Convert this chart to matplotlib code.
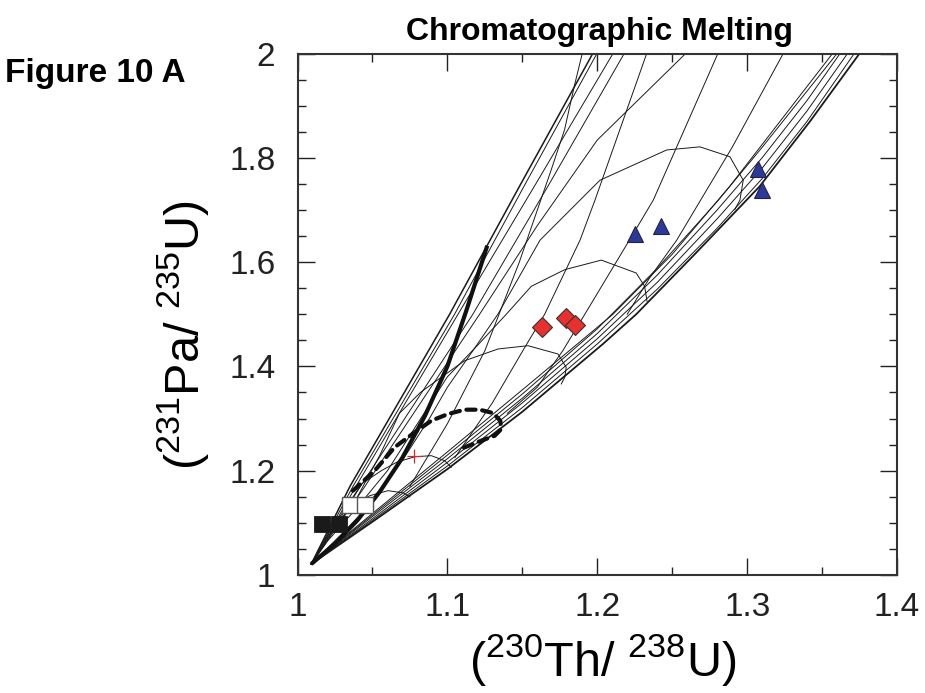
import matplotlib
matplotlib.use("Agg")
import matplotlib.pyplot as plt

plt.rcParams['font.family'] = ['Liberation Sans', 'DejaVu Sans']
plt.rcParams['mathtext.fontset'] = 'custom'
plt.rcParams['mathtext.rm'] = 'Liberation Sans'
plt.rcParams['mathtext.it'] = 'Liberation Sans'

# ---------------- data ----------------
# upper bundle of melt paths
u1_x = [1.0092, 1.035, 1.1015, 1.149, 1.197]
u1_y = [1.0211, 1.17, 1.50, 1.75, 2.0]
u2_x = [1.0092, 1.037, 1.1048, 1.152, 1.1998]
u2_y = [1.0211, 1.17, 1.50, 1.75, 2.0]
u3_x = [1.0092, 1.039, 1.1071, 1.159, 1.2105]
u3_y = [1.0211, 1.17, 1.50, 1.75, 2.0]
u4_x = [1.0092, 1.042, 1.117, 1.168, 1.218]
u4_y = [1.0211, 1.17, 1.50, 1.75, 2.0]
u5_x = [1.0092, 1.045, 1.1215, 1.16, 1.20, 1.259]
u5_y = [1.0211, 1.17, 1.50, 1.67, 1.834, 2.0]

# lower bundle of melt paths
l1_x = [1.0092, 1.05, 1.10, 1.15, 1.2038, 1.226, 1.265, 1.3083, 1.342, 1.375]
l1_y = [1.0211, 1.102, 1.203, 1.313, 1.443, 1.50, 1.615, 1.745, 1.87, 2.0]
l2_x = [1.0092, 1.05, 1.10, 1.15, 1.20, 1.24, 1.28, 1.31, 1.34, 1.3715]
l2_y = [1.0211, 1.105, 1.209, 1.321, 1.443, 1.548, 1.665, 1.76, 1.87, 2.0]
l3_x = [1.0092, 1.05, 1.10, 1.15, 1.20, 1.24, 1.28, 1.31, 1.34, 1.367]
l3_y = [1.0211, 1.108, 1.216, 1.330, 1.453, 1.561, 1.683, 1.78, 1.89, 2.0]
l4_x = [1.0092, 1.05, 1.10, 1.15, 1.20, 1.24, 1.28, 1.31, 1.34, 1.362]
l4_y = [1.0211, 1.112, 1.223, 1.339, 1.463, 1.575, 1.70, 1.80, 1.91, 2.0]
l5_x = [1.0092, 1.05, 1.10, 1.15, 1.20, 1.24, 1.28, 1.31, 1.335, 1.360]
l5_y = [1.0211, 1.115, 1.230, 1.347, 1.472, 1.588, 1.716, 1.82, 1.91, 2.0]
l6_x = [1.0092, 1.05, 1.10, 1.15, 1.2105, 1.25, 1.2883, 1.322, 1.357]
l6_y = [1.0211, 1.118, 1.236, 1.355, 1.50, 1.615, 1.745, 1.87, 2.0]

# arcs rising from the origin and bending over into the lower bundle
a1_x = [1.0092, 1.02, 1.03, 1.04, 1.0482, 1.0604, 1.0705, 1.075]
a1_y = [1.0211, 1.072, 1.112, 1.138, 1.1521, 1.1617, 1.1575, 1.150]
a2_x = [1.0092, 1.02, 1.03, 1.043, 1.0559, 1.066, 1.0782, 1.0893, 1.0982, 1.1026]
a2_y = [1.0211, 1.075, 1.12, 1.175, 1.200, 1.216, 1.2268, 1.2288, 1.2192, 1.2065]
a4_x = [1.0092, 1.025, 1.04, 1.055, 1.068, 1.082, 1.0959, 1.1115, 1.1338, 1.1538, 1.1738, 1.1793, 1.1783, 1.176]
a4_y = [1.0211, 1.09, 1.15, 1.23, 1.31, 1.35, 1.3791, 1.4109, 1.4334, 1.4397, 1.4238, 1.3983, 1.3791, 1.3663]
a5_x = [1.0092, 1.02, 1.04, 1.06, 1.08, 1.100, 1.120, 1.1393, 1.156, 1.1783, 1.2027, 1.226, 1.2316, 1.2332]
a5_y = [1.0211, 1.065, 1.13, 1.20, 1.29, 1.380, 1.440, 1.500, 1.5536, 1.5855, 1.6038, 1.5791, 1.5535, 1.5248]
a6_x = [1.0092, 1.03, 1.05, 1.07, 1.088, 1.100, 1.117, 1.1338, 1.1618, 1.2018, 1.2463, 1.2685, 1.2885, 1.2974, 1.2952, 1.2917]
a6_y = [1.0211, 1.08, 1.14, 1.22, 1.30, 1.36, 1.43, 1.5005, 1.642, 1.757, 1.815, 1.821, 1.802, 1.757, 1.719, 1.7005]

# thick dotted arc
d_x = [1.037, 1.0515, 1.0648, 1.0782, 1.0893, 1.1004, 1.1115, 1.1215, 1.1304, 1.1353, 1.136, 1.1316, 1.1226, 1.1104]
d_y = [1.1617, 1.2, 1.2449, 1.2736, 1.2959, 1.3087, 1.317, 1.317, 1.3106, 1.2959, 1.28, 1.2671, 1.2575, 1.2435]

# crossing melt paths rising off the lower bundle
s_x = [1.075, 1.10, 1.125, 1.148, 1.1693, 1.1782, 1.1849, 1.19]
s_y = [1.17, 1.29, 1.43, 1.60, 1.777, 1.854, 1.94, 2.0]
q_x = [1.105, 1.13, 1.1506, 1.1649, 1.1885, 1.1985, 1.233]
q_y = [1.225, 1.33, 1.4314, 1.5, 1.642, 1.719, 2.0]
p_x = [1.14, 1.16, 1.1773, 1.1938, 1.2254, 1.2374, 1.2805]
p_y = [1.31, 1.36, 1.4314, 1.51, 1.661, 1.719, 2.0]
r_x = [1.22, 1.235, 1.253, 1.29, 1.3241]
r_y = [1.50, 1.57, 1.642, 1.82, 2.0]

# thick melt path
t_x = [1.0092, 1.025, 1.04, 1.055, 1.07, 1.085, 1.10, 1.113, 1.1266]
t_y = [1.0211, 1.06, 1.105, 1.16, 1.225, 1.305, 1.40, 1.51, 1.6315]

# samples
black_sq_x = [1.0163, 1.0275]
black_sq_y = [1.0978, 1.0978]
white_sq_x = [1.0348, 1.0448]
white_sq_y = [1.134, 1.134]
red_d_x = [1.1633, 1.1793, 1.1849]
red_d_y = [1.475, 1.4928, 1.4794]
blue_t_x = [1.2254, 1.2427, 1.3072, 1.3101]
blue_t_y = [1.6539, 1.6687, 1.7791, 1.7388]
cross_x = [1.0777]
cross_y = [1.2288]

# ---------------- figure ----------------
W, H = 925, 693
fig = plt.figure(figsize=(W / 100, H / 100), dpi=100)
L, R, T, B = 297.5, 897.0, 53.5, 575.0
ax = fig.add_axes([L / W, 1 - B / H, (R - L) / W, (B - T) / H])

thin = dict(color='#1a1a1a', lw=0.7)
for xs, ys in [(u2_x, u2_y), (u3_x, u3_y), (u4_x, u4_y), (u5_x, u5_y),
               (l2_x, l2_y), (l3_x, l3_y), (l4_x, l4_y), (l5_x, l5_y), (l6_x, l6_y),
               (a1_x, a1_y), (a2_x, a2_y), (a4_x, a4_y), (a5_x, a5_y), (a6_x, a6_y),
               (s_x, s_y), (q_x, q_y), (p_x, p_y), (r_x, r_y)]:
    ax.plot(xs, ys, **thin)
# the outer edges of both bundles look heavier where many paths overlap
ax.plot(u1_x, u1_y, color='#1a1a1a', lw=1.1)
ax.plot(l1_x, l1_y, color='#1a1a1a', lw=1.3)

ax.plot(t_x, t_y, color='#111111', lw=3.0, solid_capstyle='butt')
ax.plot(d_x, d_y, color='#111111', lw=3.0, linestyle=(0, (2.2, 1.6)), dash_capstyle='round')

ax.plot(black_sq_x, black_sq_y, 's', ms=11, mfc='#1a1a1a', mec='#1a1a1a', mew=0.6, ls='none')
ax.plot(white_sq_x, white_sq_y, 's', ms=11, mfc='white', mec='#555555', mew=1.0, ls='none')
ax.plot(red_d_x, red_d_y, 'D', ms=10.5, mfc='#e8312f', mec='#333333', mew=0.8, ls='none')
ax.plot(blue_t_x, blue_t_y, '^', ms=12, mfc='#2b3a98', mec='#222244', mew=0.8, ls='none')
ax.plot(cross_x, cross_y, '+', ms=10, color='#d62a2a', mew=0.9, ls='none')

ax.set_xlim(1.0, 1.4)
ax.set_ylim(1.0, 2.0)
ax.set_xticks([1.0, 1.1, 1.2, 1.3, 1.4])
ax.set_xticklabels(['1', '1.1', '1.2', '1.3', '1.4'])
ax.set_yticks([1.0, 1.2, 1.4, 1.6, 1.8, 2.0])
ax.set_yticklabels(['1', '1.2', '1.4', '1.6', '1.8', '2'])
ax.set_xticks([1.05, 1.15, 1.25, 1.35], minor=True)
ax.set_yticks([1.05, 1.1, 1.15, 1.25, 1.3, 1.35, 1.45, 1.5, 1.55, 1.65, 1.7, 1.75, 1.85, 1.9, 1.95], minor=True)
ax.tick_params(which='both', direction='in', top=True, right=True, colors='#222222')
ax.tick_params(which='major', length=12, width=1.0, labelsize=24)
ax.tick_params(which='minor', length=6, width=1.0)
ax.tick_params(axis='x', which='major', pad=12)
ax.tick_params(axis='y', which='major', pad=16)
for s in ax.spines.values():
    s.set_linewidth(1.5)
    s.set_color('#333333')

fig.text(600 / W, 1 - 40 / H, 'Chromatographic Melting', ha='center', va='baseline',
         fontsize=23, fontweight='bold')
fig.text(5 / W, 1 - 82 / H, 'Figure 10 A', ha='left', va='baseline',
         fontsize=24, fontweight='bold')
fig.text(603 / W, 1 - 676 / H, r'($^{230}$Th/ $^{238}$U)', ha='center', va='baseline', fontsize=35)
fig.text(183 / W, 1 - 335 / H, r'($^{231}$Pa/ $^{235}$U)', ha='center', va='center', fontsize=35,
         rotation=90)

fig.savefig('out.png', dpi=100)
